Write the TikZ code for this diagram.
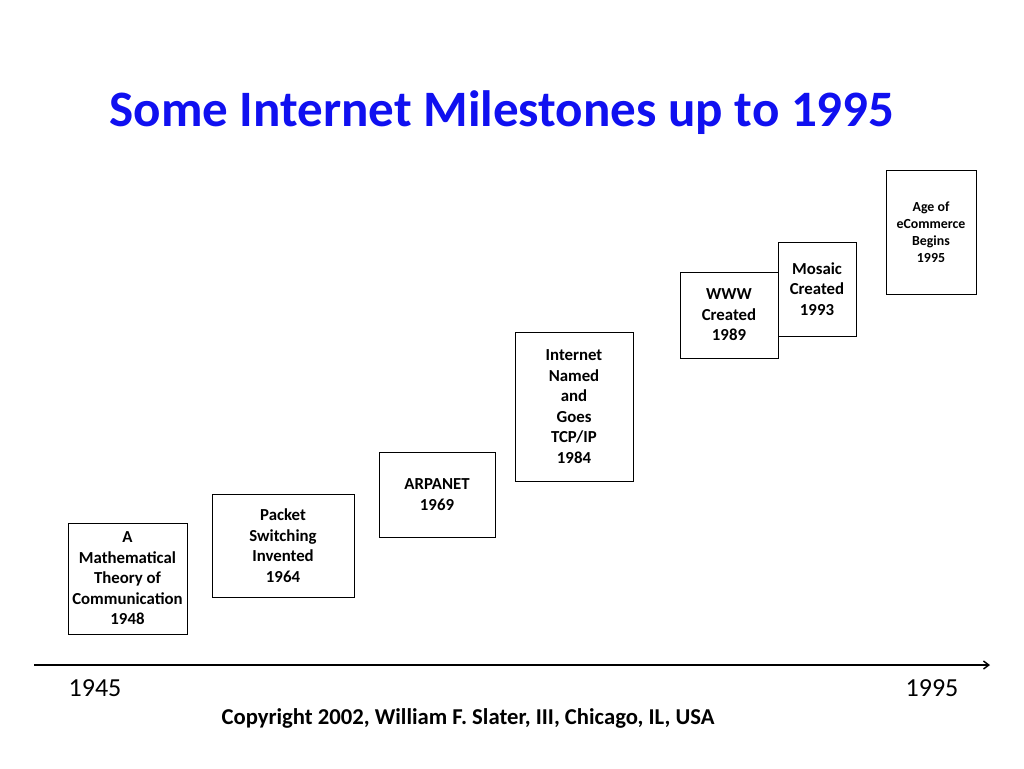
\documentclass[tikz,border=0pt]{standalone}
\usepackage{fontspec}
\setmainfont{Carlito}
\usetikzlibrary{arrows.meta}
\definecolor{titleblue}{RGB}{16,16,240}
\begin{document}
\begin{tikzpicture}[x=0.75pt,y=-0.75pt,
  mbox/.style={draw=black,line width=0.7pt,inner sep=0pt,align=center,
    font=\fontsize{12.6}{15.4}\selectfont\bfseries},
  sbox/.style={mbox,font=\fontsize{10.4}{12.8}\selectfont\bfseries}]
\useasboundingbox (0,0) rectangle (1024,768);
\fill[white] (0,0) rectangle (1024,768);
\node[font=\fontsize{38.3}{42}\selectfont\bfseries,text=titleblue] (title) at (502,113) {Some Internet Milestones up to 1995};
\node[mbox,minimum width=119*0.75pt,minimum height=111*0.75pt] (b1) at (127.5,578.5) {A\\Mathematical\\Theory of\\Communication\\1948};
\node[mbox,minimum width=142*0.75pt,minimum height=103*0.75pt] (b2) at (283,545.5) {Packet\\Switching\\Invented\\1964};
\node[mbox,minimum width=116*0.75pt,minimum height=85*0.75pt] (b3) at (437,494.5) {ARPANET\\1969};
\node[mbox,minimum width=118*0.75pt,minimum height=149*0.75pt] (b4) at (574,406.5) {Internet\\Named\\and\\Goes\\TCP/IP\\1984};
\node[mbox,minimum width=78*0.75pt,minimum height=94*0.75pt] (b6) at (817,289) {Mosaic\\Created\\1993};
\node[mbox,fill=white,minimum width=98*0.75pt,minimum height=86*0.75pt] (b5) at (729,315) {WWW\\Created\\1989};
\node[sbox,minimum width=90*0.75pt,minimum height=124*0.75pt] (b7) at (931,232) {Age of\\eCommerce\\Begins\\1995};
\coordinate (axs) at (34,665);
\coordinate (axe) at (990,665);
\draw[line width=1.1pt,-{Straight Barb[length=4pt,width=6pt]}] (axs) -- (axe);
\node[font=\fontsize{19.5}{22}\selectfont] (y1) at (95,688) {1945};
\node[font=\fontsize{19.5}{22}\selectfont] (y2) at (932,688) {1995};
\node[font=\fontsize{17}{19}\selectfont\bfseries] (copy) at (468,718) {Copyright 2002, William F. Slater, III, Chicago, IL, USA};
\end{tikzpicture}
\end{document}
